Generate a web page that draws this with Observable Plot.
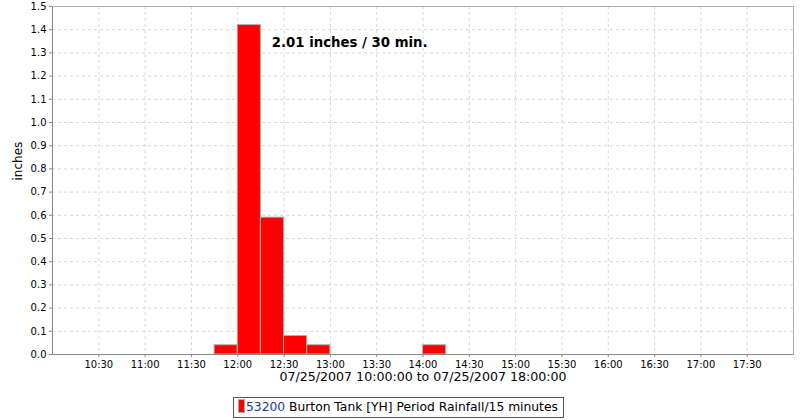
<!DOCTYPE html>
<html>
<head>
<meta charset="utf-8">
<script src="https://cdn.jsdelivr.net/npm/d3@7"></script>
<script src="https://cdn.jsdelivr.net/npm/@observablehq/plot@0.6"></script>
<style>
  html, body { margin: 0; padding: 0; background: #fff; }
  body { width: 800px; height: 420px; position: relative; font-family: "DejaVu Sans", sans-serif; }
  #chart svg { display: block; }
  #legend {
    position: absolute; left: 233px; top: 397px; height: 21px;
    border: 1px solid #555; box-sizing: border-box; padding: 0 5px 0 4px;
    font-size: 12.3px; line-height: 19px; white-space: nowrap; color: #000;
  }
  #legend .sw { display: inline-block; width: 5px; height: 12px; background: #f00; border: 1px solid #aaa; vertical-align: -2px; margin-right: 1px; }
  #legend .id { color: #1a3a9a; }
</style>
</head>
<body>
<div id="chart"></div>
<div id="legend"><span class="sw"></span><span class="id">53200</span> Burton Tank [YH] Period Rainfall/15 minutes</div>
<script>
const day = "2007-07-25";
const periodStarts = ["11:45", "12:00", "12:15", "12:30", "12:45", "14:00"];
const rainfall = [0.04, 1.42, 0.59, 0.08, 0.04, 0.04];
const xTickLabels = ["10:30","11:00","11:30","12:00","12:30","13:00","13:30","14:00","14:30","15:00","15:30","16:00","16:30","17:00","17:30"];
const yTicks = [0,0.1,0.2,0.3,0.4,0.5,0.6,0.7,0.8,0.9,1.0,1.1,1.2,1.3,1.4,1.5];
const annotationText = "2.01 inches / 30 min.";
const annotationAt = ["12:22", 1.345];
const xAxisLabel = "07/25/2007 10:00:00 to 07/25/2007 18:00:00";
const yAxisLabel = "inches";

const t = s => new Date(`${day}T${s}:00Z`);
const bars = periodStarts.map((s, i) => {
  const a = t(s);
  return {x1: a, x2: new Date(+a + 15 * 60000), y: rainfall[i]};
});
const xTicks = xTickLabels.map(t);
const fmt = d3.utcFormat("%H:%M");

const chart = Plot.plot({
  width: 800,
  height: 390,
  marginLeft: 52,
  marginRight: 7,
  marginTop: 6,
  marginBottom: 36,
  style: {fontFamily: "DejaVu Sans, sans-serif", fontSize: "10px", background: "#fff", color: "#000"},
  x: {type: "utc", domain: [t("10:00"), t("18:00")], ticks: xTicks, tickFormat: fmt, label: null},
  y: {domain: [0, 1.5], ticks: yTicks, tickFormat: d3.format(".1f"), label: null},
  marks: [
    Plot.gridX(xTicks, {stroke: "#d8d8d8", strokeOpacity: 1, strokeDasharray: "3,3"}),
    Plot.gridY(yTicks, {stroke: "#d8d8d8", strokeOpacity: 1, strokeDasharray: "3,3"}),
    Plot.frame({stroke: "#b0b0b0"}),
    Plot.rectY(bars, {x1: "x1", x2: "x2", y: "y", fill: "#ff0000", stroke: "#b0b0b0", strokeWidth: 1}),
    Plot.ruleY([0], {stroke: "#888"}),
    Plot.ruleX([t("10:00")], {stroke: "#888"}),
    Plot.axisX(xTicks, {tickSize: 3, tickPadding: 3, stroke: "#888", tickFormat: fmt, label: null, fontSize: 10}),
    Plot.axisY(yTicks, {tickSize: 3, tickPadding: 3, stroke: "#888", tickFormat: d3.format(".1f"), label: null, fontSize: 10}),
    Plot.text([annotationText], {x: () => t(annotationAt[0]), y: () => annotationAt[1], text: d => d, textAnchor: "start", fontWeight: "bold", fontSize: 13.3}),
    Plot.text([xAxisLabel], {frameAnchor: "bottom", text: d => d, dy: 26, fontSize: 12.6}),
    Plot.text([yAxisLabel], {frameAnchor: "left", text: d => d, rotate: -90, dx: -34, fontSize: 12})
  ]
});
document.getElementById("chart").append(chart);
</script>
</body>
</html>
